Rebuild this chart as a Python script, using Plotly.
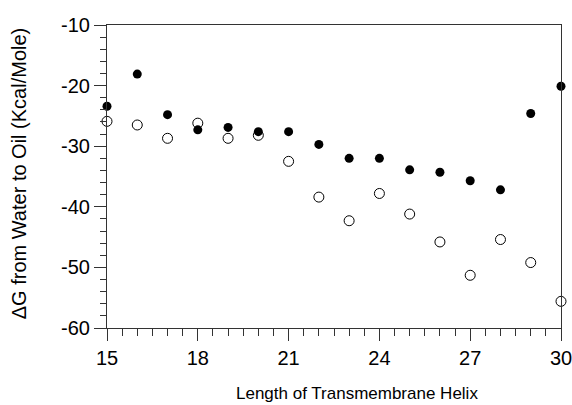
import plotly.graph_objects as go

# Helix length (residues)
helix_length = [15, 16, 17, 18, 19, 20, 21, 22, 23, 24, 25, 26, 27, 28, 29, 30]

# Free energy of transfer, water -> oil (kcal/mol)
dg_filled = [-23.4, -18.1, -24.8, -27.3, -26.9, -27.6, -27.6, -29.7,
             -32.0, -32.0, -33.9, -34.3, -35.7, -37.2, -24.6, -20.1]
dg_open = [-25.9, -26.5, -28.7, -26.2, -28.7, -28.2, -32.5, -38.4,
           -42.3, -37.8, -41.2, -45.8, -51.3, -45.4, -49.2, -55.6]

x_ticks = [15, 18, 21, 24, 27, 30]
y_ticks = [-60, -50, -40, -30, -20, -10]
y_tick_text = ["-60", "-50", "-40", "-30", "-20", "-10"]

x_title = "Length of Transmembrane Helix"
y_title = "ΔG from Water to Oil (Kcal/Mole)"

FONT = "Liberation Sans, Arial, Helvetica, sans-serif"

fig = go.Figure()
fig.add_trace(go.Scatter(
    x=helix_length, y=dg_open, mode="markers",
    marker=dict(symbol="circle-open", size=10, color="black", line=dict(width=1)),
    cliponaxis=False, showlegend=False,
))
fig.add_trace(go.Scatter(
    x=helix_length, y=dg_filled, mode="markers",
    marker=dict(symbol="circle", size=9, color="black"),
    cliponaxis=False, showlegend=False,
))

axis_common = dict(
    showgrid=False, zeroline=False, showline=True, mirror=True, automargin=False,
    linecolor="#333333", linewidth=1.2, ticks="outside", tickcolor="#333333",
    tickwidth=1.2, ticklen=12, ticklabeloverflow="allow",
    tickfont=dict(family=FONT, size=20, color="black"),
)

fig.update_xaxes(
    range=[15, 30], tickvals=x_ticks,
    minor=dict(dtick=0.5, ticks="outside", ticklen=7, tickcolor="#333333", tickwidth=1),
    **axis_common,
)
fig.update_yaxes(
    range=[-60, -10], tickvals=y_ticks, ticktext=y_tick_text,
    minor=dict(dtick=2, ticks="outside", ticklen=6, tickcolor="#333333", tickwidth=1),
    **axis_common,
)

# Axis titles placed as annotations for finer positioning
fig.add_annotation(
    text=x_title, xref="paper", yref="paper", x=0.55, y=-0.215,
    xanchor="center", yanchor="middle", showarrow=False,
    font=dict(family=FONT, size=17, color="black"),
)
fig.add_annotation(
    text=y_title, xref="paper", yref="paper", x=-0.192, y=0.51,
    xanchor="center", yanchor="middle", textangle=-90, showarrow=False,
    font=dict(family=FONT, size=20, color="black"),
)

fig.update_layout(
    width=572, height=405,
    margin=dict(l=107, r=11, t=25, b=77),
    paper_bgcolor="white", plot_bgcolor="white",
)

fig.write_html("out.html")
